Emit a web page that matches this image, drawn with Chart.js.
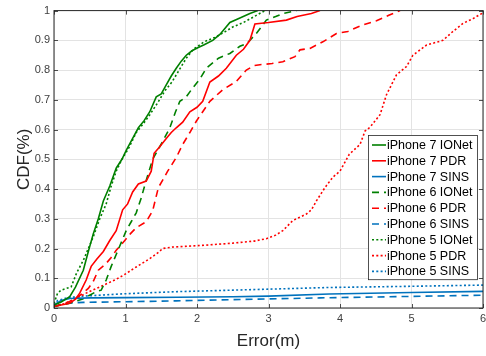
<!DOCTYPE html>
<html>
<head>
<meta charset="utf-8">
<script src="https://cdn.jsdelivr.net/npm/chart.js@4.4.1/dist/chart.umd.min.js"></script>
<style>
  body { margin: 0; background: #fff; }
  #chart { display: block; }
</style>
</head>
<body>
<canvas id="chart" width="486" height="356"></canvas>
<script>
// series labels (legend order)
const seriesLabels = [
  'iPhone 7 IONet', 'iPhone 7 PDR', 'iPhone 7 SINS',
  'iPhone 6 IONet', 'iPhone 6 PDR', 'iPhone 6 SINS',
  'iPhone 5 IONet', 'iPhone 5 PDR', 'iPhone 5 SINS'
];

// error (m) / CDF values
const ip7IonetX = [0, 0.1, 0.22, 0.3, 0.41, 0.48, 0.55, 0.62, 0.69, 0.78, 0.87, 0.95, 1.01, 1.1, 1.18, 1.26, 1.34, 1.43, 1.5, 1.57, 1.64, 1.71, 1.78, 1.85, 1.93, 2.01, 2.1, 2.22, 2.32, 2.46, 2.6, 2.74, 2.85];
const ip7IonetY = [0.01, 0.02, 0.038, 0.07, 0.127, 0.19, 0.25, 0.3, 0.36, 0.41, 0.47, 0.5, 0.53, 0.57, 0.606, 0.63, 0.66, 0.71, 0.72, 0.75, 0.78, 0.806, 0.83, 0.85, 0.865, 0.875, 0.885, 0.9, 0.92, 0.96, 0.975, 0.99, 1.0];

const ip7PdrX = [0, 0.1, 0.22, 0.3, 0.36, 0.45, 0.52, 0.6, 0.69, 0.78, 0.87, 0.96, 1.03, 1.1, 1.18, 1.29, 1.36, 1.4, 1.47, 1.57, 1.64, 1.71, 1.8, 1.9, 2.0, 2.08, 2.18, 2.3, 2.41, 2.55, 2.65, 2.74, 2.81, 3.0, 3.25, 3.4, 3.6, 3.72];
const ip7PdrY = [0.005, 0.01, 0.016, 0.03, 0.05, 0.094, 0.14, 0.165, 0.19, 0.227, 0.26, 0.33, 0.35, 0.39, 0.417, 0.427, 0.46, 0.52, 0.54, 0.57, 0.59, 0.606, 0.625, 0.66, 0.675, 0.695, 0.76, 0.78, 0.806, 0.85, 0.87, 0.9, 0.955, 0.96, 0.968, 0.98, 0.99, 1.0];

const ip7SinsX = [0, 0.1, 0.22, 0.5, 1.0, 1.73, 2.5, 3.0, 3.85, 5.0, 6.0];
const ip7SinsY = [0.01, 0.025, 0.032, 0.034, 0.035, 0.036, 0.038, 0.04, 0.047, 0.052, 0.056];

const ip6IonetX = [0, 0.2, 0.4, 0.59, 0.66, 0.73, 0.8, 0.87, 0.94, 1.01, 1.08, 1.15, 1.22, 1.29, 1.38, 1.45, 1.52, 1.62, 1.7, 1.76, 1.85, 1.94, 2.04, 2.13, 2.3, 2.46, 2.6, 2.7, 2.83, 2.97, 3.1, 3.2, 3.39];
const ip6IonetY = [0.005, 0.015, 0.03, 0.055, 0.06, 0.094, 0.14, 0.18, 0.22, 0.26, 0.29, 0.32, 0.37, 0.43, 0.5, 0.53, 0.56, 0.606, 0.66, 0.695, 0.71, 0.74, 0.77, 0.806, 0.84, 0.856, 0.88, 0.89, 0.923, 0.968, 0.98, 0.99, 1.0];

const ip6PdrX = [0, 0.15, 0.31, 0.4, 0.48, 0.55, 0.62, 0.73, 0.8, 0.87, 0.99, 1.07, 1.15, 1.29, 1.38, 1.46, 1.52, 1.59, 1.71, 1.8, 1.9, 1.99, 2.08, 2.18, 2.36, 2.55, 2.69, 2.8, 2.88, 3.05, 3.2, 3.37, 3.44, 3.58, 3.76, 3.95, 4.11, 4.3, 4.51, 4.69, 4.84];
const ip6PdrY = [0.005, 0.015, 0.032, 0.05, 0.066, 0.09, 0.127, 0.15, 0.17, 0.194, 0.227, 0.25, 0.27, 0.29, 0.327, 0.405, 0.43, 0.46, 0.506, 0.55, 0.59, 0.628, 0.66, 0.695, 0.734, 0.762, 0.8, 0.815, 0.818, 0.822, 0.828, 0.845, 0.868, 0.873, 0.895, 0.923, 0.93, 0.95, 0.966, 0.985, 1.0];

const ip6SinsX = [0, 0.1, 0.25, 0.41, 1.0, 1.71, 2.5, 3.72, 5.0, 6.0];
const ip6SinsY = [0.005, 0.012, 0.017, 0.019, 0.021, 0.024, 0.028, 0.034, 0.039, 0.043];

const ip5IonetX = [0, 0.05, 0.1, 0.24, 0.32, 0.41, 0.55, 0.64, 0.73, 0.8, 0.87, 0.95, 1.05, 1.15, 1.25, 1.34, 1.45, 1.55, 1.65, 1.75, 1.85, 1.95, 2.1, 2.25, 2.4, 2.5, 2.65, 2.8, 2.95];
const ip5IonetY = [0.015, 0.05, 0.06, 0.071, 0.12, 0.16, 0.24, 0.3, 0.35, 0.41, 0.46, 0.5, 0.54, 0.59, 0.62, 0.65, 0.69, 0.73, 0.76, 0.8, 0.84, 0.87, 0.895, 0.91, 0.93, 0.945, 0.96, 0.98, 1.0];

const ip5PdrX = [0, 0.15, 0.31, 0.45, 0.64, 0.85, 0.97, 1.15, 1.34, 1.45, 1.52, 1.66, 2.04, 2.5, 2.8, 2.97, 3.1, 3.2, 3.34, 3.53, 3.6, 3.67, 3.79, 3.9, 4.0, 4.13, 4.28, 4.35, 4.42, 4.56, 4.65, 4.79, 4.93, 5.02, 5.21, 5.44, 5.58, 5.72, 5.86, 5.98, 6.0];
const ip5PdrY = [0.005, 0.015, 0.032, 0.05, 0.071, 0.094, 0.11, 0.138, 0.166, 0.185, 0.2, 0.205, 0.21, 0.218, 0.225, 0.233, 0.245, 0.26, 0.294, 0.316, 0.33, 0.36, 0.405, 0.44, 0.46, 0.517, 0.55, 0.595, 0.608, 0.65, 0.717, 0.784, 0.812, 0.85, 0.884, 0.9, 0.93, 0.957, 0.973, 0.99, 1.0];

const ip5SinsX = [0, 0.05, 0.2, 0.41, 1.0, 1.73, 2.5, 3.85, 5.0, 6.0];
const ip5SinsY = [0.01, 0.025, 0.035, 0.04, 0.048, 0.055, 0.06, 0.069, 0.073, 0.077];

const xTicks = [0, 1, 2, 3, 4, 5, 6];
const yTicks = [0, 0.1, 0.2, 0.3, 0.4, 0.5, 0.6, 0.7, 0.8, 0.9, 1];

// styles
const GREEN = '#008000', RED = '#ff0000', BLUE = '#0072bd';
const SOLID = [], DASHED = [7, 5], DOTTED = [2, 2.3];

function pts(xs, ys) {
  return xs.map((x, i) => ({ x: x, y: ys[i] }));
}

const seriesData = [
  pts(ip7IonetX, ip7IonetY), pts(ip7PdrX, ip7PdrY), pts(ip7SinsX, ip7SinsY),
  pts(ip6IonetX, ip6IonetY), pts(ip6PdrX, ip6PdrY), pts(ip6SinsX, ip6SinsY),
  pts(ip5IonetX, ip5IonetY), pts(ip5PdrX, ip5PdrY), pts(ip5SinsX, ip5SinsY)
];
const colors = [GREEN, RED, BLUE, GREEN, RED, BLUE, GREEN, RED, BLUE];
const dashes = [SOLID, SOLID, SOLID, DASHED, DASHED, DASHED, DOTTED, DOTTED, DOTTED];

const datasets = seriesData.map((d, i) => ({
  label: seriesLabels[i],
  data: d,
  borderColor: colors[i],
  backgroundColor: colors[i],
  borderDash: dashes[i],
  borderWidth: 1.6,
  pointRadius: 0,
  showLine: true,
  fill: false,
  tension: 0
}));

Chart.defaults.font.family = "'Liberation Sans', Arial, Helvetica, sans-serif";

// MATLAB style box with inward ticks
const boxPlugin = {
  id: 'box',
  afterDatasetsDraw(chart) {
    const { ctx, chartArea: a, scales } = chart;
    ctx.save();
    ctx.strokeStyle = '#262626';
    ctx.lineWidth = 0.8;
    ctx.setLineDash([]);
    ctx.beginPath();
    xTicks.forEach(v => {
      const px = Math.round(scales.x.getPixelForValue(v)) + 0.5;
      ctx.moveTo(px, a.bottom); ctx.lineTo(px, a.bottom - 4);
      ctx.moveTo(px, a.top); ctx.lineTo(px, a.top + 4);
    });
    yTicks.forEach(v => {
      const py = Math.round(scales.y.getPixelForValue(v)) + 0.5;
      ctx.moveTo(a.left, py); ctx.lineTo(a.left + 4, py);
      ctx.moveTo(a.right, py); ctx.lineTo(a.right - 4, py);
    });
    ctx.stroke();
    ctx.lineWidth = 1;
    ctx.strokeRect(a.left, a.top, a.right - a.left, a.bottom - a.top);
    ctx.restore();
  }
};

// legend box inside the axes, bottom right
const legendPlugin = {
  id: 'insideLegend',
  afterDraw(chart) {
    const { ctx, chartArea: a } = chart;
    const right = a.right - 6, top = 135, w = 109, rowH = 15.8;
    const left = right - w, h = rowH * seriesLabels.length + 2;
    ctx.save();
    ctx.fillStyle = '#fff';
    ctx.fillRect(left, top, w, h);
    ctx.strokeStyle = '#262626';
    ctx.lineWidth = 0.8;
    ctx.setLineDash([]);
    ctx.strokeRect(left + 0.5, top + 0.5, w, h);
    ctx.font = "12.5px 'Liberation Sans', Arial, Helvetica, sans-serif";
    ctx.textBaseline = 'middle';
    chart.data.datasets.forEach((ds, i) => {
      const cy = top + 10 + i * rowH;
      ctx.strokeStyle = ds.borderColor;
      ctx.lineWidth = 1.6;
      ctx.setLineDash(ds.borderDash);
      ctx.beginPath();
      ctx.moveTo(left + 4, cy);
      ctx.lineTo(left + 18, cy);
      ctx.stroke();
      ctx.fillStyle = '#000';
      ctx.fillText(ds.label, left + 19, cy + 0.5);
    });
    ctx.restore();
  }
};

new Chart(document.getElementById('chart').getContext('2d'), {
  type: 'scatter',
  data: { datasets: datasets },
  options: {
    responsive: false,
    animation: false,
    layout: { padding: { left: 0, top: 9, right: 0, bottom: 0 } },
    plugins: { legend: { display: false }, tooltip: { enabled: false } },
    scales: {
      x: {
        type: 'linear', min: 0, max: 6,
        afterBuildTicks: s => { s.ticks = xTicks.map(v => ({ value: v })); },
        afterFit: s => { s.height = 48; s.paddingRight = 3; s.paddingLeft = 0; },
        ticks: { font: { size: 11 }, color: '#404040', padding: 4, maxRotation: 0,
                 callback: v => String(v) },
        grid: { color: '#e3e3e3', drawTicks: false },
        border: { display: false },
        title: { display: true, text: 'Error(m)', font: { size: 17 }, color: '#262626',
                 padding: { top: 4, bottom: 4 } }
      },
      y: {
        type: 'linear', min: 0, max: 1,
        afterBuildTicks: s => { s.ticks = yTicks.map(v => ({ value: v })); },
        afterFit: s => { s.width = 54; },
        ticks: { font: { size: 11 }, color: '#404040', padding: 4,
                 callback: v => (v === 0 || v === 1) ? String(v) : v.toFixed(1) },
        grid: { color: '#e3e3e3', drawTicks: false },
        border: { display: false },
        title: { display: true, text: 'CDF(%)', font: { size: 17 }, color: '#262626',
                 padding: { top: 14, bottom: 4 } }
      }
    }
  },
  plugins: [boxPlugin, legendPlugin]
});
</script>
</body>
</html>
